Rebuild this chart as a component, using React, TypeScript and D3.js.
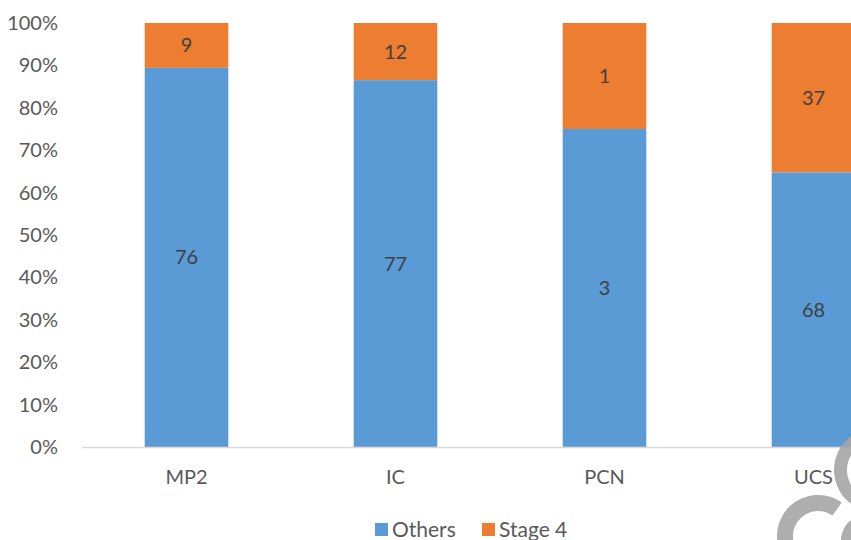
import React, {useEffect, useRef} from "react";
import * as d3 from "d3";

const categories = ["MP2", "IC", "PCN", "UCS"];
const others = [76, 77, 3, 68];
const stage4 = [9, 12, 1, 37];
const yTicks = [0, 0.1, 0.2, 0.3, 0.4, 0.5, 0.6, 0.7, 0.8, 0.9, 1];

const seriesNames = ["Others", "Stage 4"];
const colors = ["#5b9bd5", "#ed7d31"];

const App = () => {
    const ref = useRef<SVGSVGElement>(null);

    useEffect(() => {
        const w = 851;
        const h = 540;
        const font = "Lato, 'Open Sans', sans-serif";
        const svg = d3.select(ref.current)
            .attr("width", w)
            .attr("height", h)
            .style("background", "#fff");

        svg.selectAll("*").remove();

        // scales
        const x = d3.scaleBand()
            .domain(categories)
            .range([82, 918])
            .paddingInner(0.6)
            .paddingOuter(0.3);

        const y = d3.scaleLinear()
            .domain([0, 1])
            .range([447, 23]);

        // y tick labels
        svg.append("g")
            .selectAll("text")
            .data(yTicks)
            .join("text")
            .attr("x", 58)
            .attr("y", d => y(d))
            .attr("dy", "0.35em")
            .attr("text-anchor", "end")
            .attr("font-family", font)
            .attr("font-size", 20)
            .attr("fill", "#595959")
            .text(d => d3.format(".0%")(d));

        // stacked segments
        const rows = categories.map((c, i) => {
            const total = others[i] + stage4[i];
            return {cat: c, vals: [others[i], stage4[i]], total};
        });

        rows.forEach(r => {
            let acc = 0;
            r.vals.forEach((v, s) => {
                const y0 = acc / r.total;
                const y1 = (acc + v) / r.total;
                acc += v;
                svg.append("rect")
                    .attr("x", x(r.cat)!)
                    .attr("y", y(y1))
                    .attr("width", x.bandwidth())
                    .attr("height", y(y0) - y(y1))
                    .attr("fill", colors[s]);
                svg.append("text")
                    .attr("x", x(r.cat)! + x.bandwidth() / 2)
                    .attr("y", y((y0 + y1) / 2))
                    .attr("dy", "0.35em")
                    .attr("text-anchor", "middle")
                    .attr("font-family", font)
                    .attr("font-size", 20)
                    .attr("fill", "#404040")
                    .text(v);
            });
        });

        // x axis line + labels
        svg.append("line")
            .attr("x1", 82).attr("x2", w)
            .attr("y1", 447.5).attr("y2", 447.5)
            .attr("stroke", "#d9d9d9")
            .attr("stroke-width", 1.5);

        svg.append("g")
            .selectAll("text")
            .data(categories)
            .join("text")
            .attr("x", d => x(d)! + x.bandwidth() / 2)
            .attr("y", 477)
            .attr("dy", "0.35em")
            .attr("text-anchor", "middle")
            .attr("font-family", font)
            .attr("font-size", 20)
            .attr("fill", "#595959")
            .text(d => d);

        // legend
        const legendX = [375, 482];
        const leg = svg.append("g");
        seriesNames.forEach((n, i) => {
            leg.append("rect")
                .attr("x", legendX[i])
                .attr("y", 523)
                .attr("width", 13)
                .attr("height", 13)
                .attr("fill", colors[i]);
            leg.append("text")
                .attr("x", legendX[i] + 17)
                .attr("y", 537)
                .attr("font-family", font)
                .attr("font-size", 21)
                .attr("fill", "#595959")
                .text(n);
        });

        // watermark logo bits in the corner
        const arc = d3.arc();
        const wm = svg.append("g").attr("fill", "#a6a6a6").attr("opacity", 0.9);
        wm.append("path")
            .attr("transform", "translate(818,536)")
            .attr("d", arc({innerRadius: 25, outerRadius: 41, startAngle: 3.3, endAngle: 6.9}) as string);
        wm.append("path")
            .attr("transform", "translate(876,470)")
            .attr("d", arc({innerRadius: 29, outerRadius: 42, startAngle: 3.7, endAngle: 5.8}) as string);
        wm.append("path")
            .attr("transform", "translate(866,540)")
            .attr("d", arc({innerRadius: 14, outerRadius: 25, startAngle: 4.4, endAngle: 6.2}) as string);
    }, []);

    return (<div>
        <svg ref={ref} style={{position: "absolute", left: 0, top: 0}}></svg>
    </div>);
};

export default App;
